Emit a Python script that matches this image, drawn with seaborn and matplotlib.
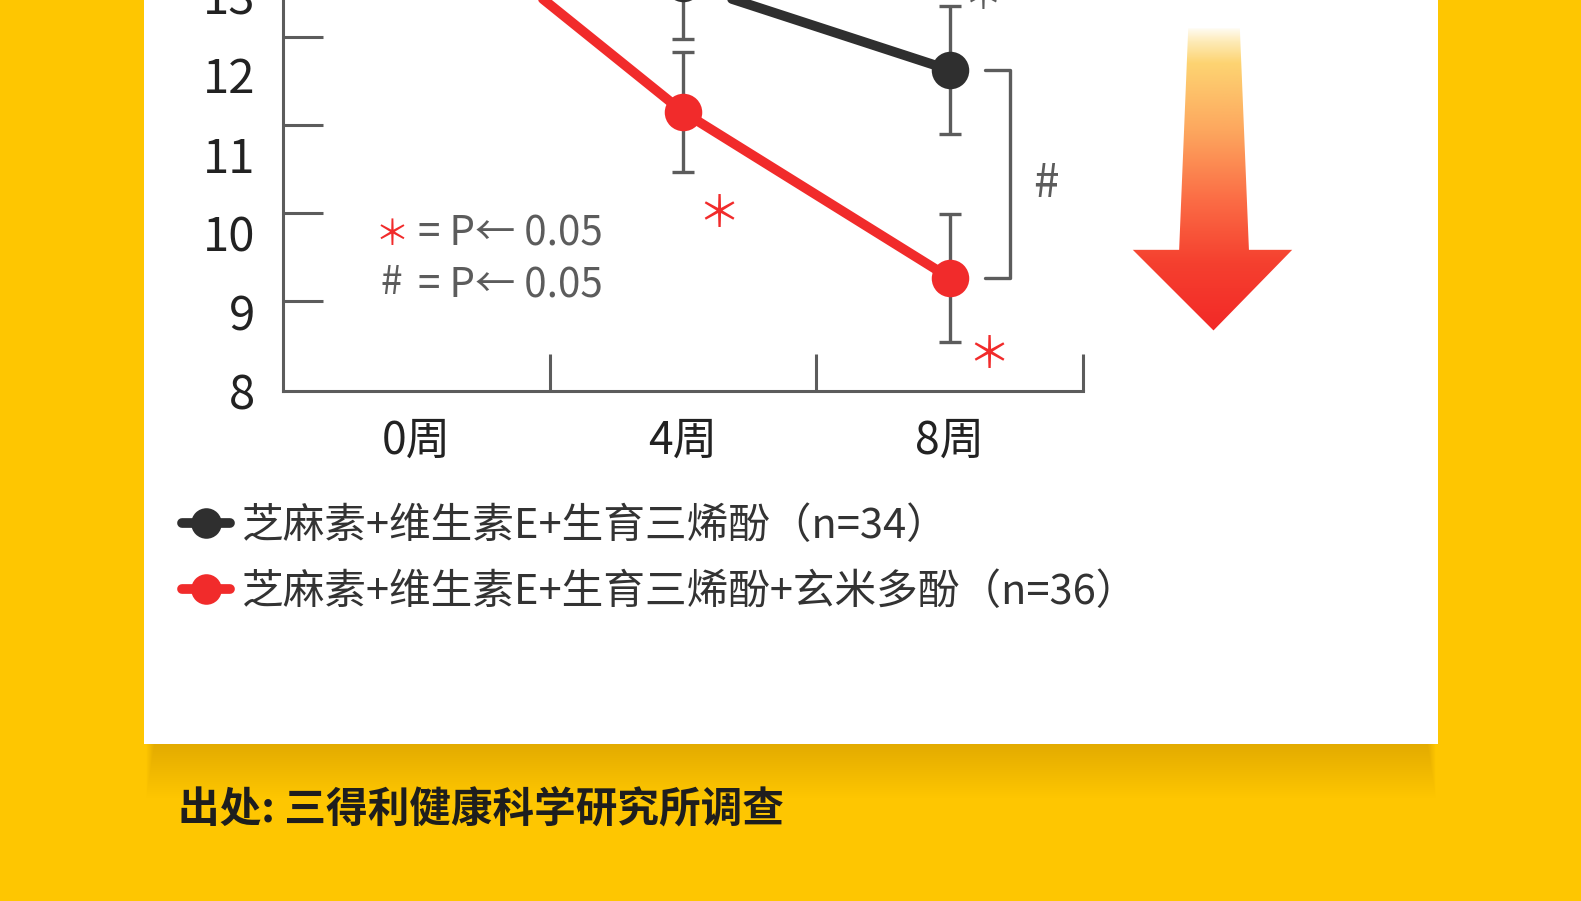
import matplotlib.pyplot as plt
import numpy as np
import pandas as pd
import seaborn as sns
from matplotlib.colors import LinearSegmentedColormap
from matplotlib.lines import Line2D
from matplotlib.patches import Polygon, Rectangle

# Data (values on the printed label scale)
weeks = ["0周", "4周", "8周"]
group_names = [
    "芝麻素+维生素E+生育三烯酚（n=34）",
    "芝麻素+维生素E+生育三烯酚+玄米多酚（n=36）",
]
base_values = [14.3, 13.16, 12.06]
base_err = [0.72, 0.71, 0.81]
rice_values = [14.25, 11.53, 9.43]
rice_err = [0.72, 0.76, 0.81]
y_ticks = [8, 9, 10, 11, 12, 13]
y_marks = [9.14, 10.25, 11.37, 12.48, 13.6]
sig_note = "= P← 0.05"
source_note = "出处: 三得利健康科学研究所调查"

W, H = 1581, 901
yellow = "#FEC601"
red = "#F12B2B"
black = "#2F2F2F"
grey = "#5C5C5C"


# layout was measured on a 1566x894 view of the reference
def fx(x):
    return x * 1581 / 1566 / W


def fy(y):
    return 1 - y * 901 / 894 / H


def fh(h):
    return h * 901 / 894 / H


sns.set_theme(style="white")
plt.rcParams["font.family"] = ["Liberation Sans Narrow", "Noto Sans CJK SC", "DejaVu Sans"]

df = pd.DataFrame(
    {
        "week": weeks * 2,
        "value": base_values + rice_values,
        "group": [group_names[0]] * 3 + [group_names[1]] * 3,
    }
)

fig = plt.figure(figsize=(W / 100, H / 100), dpi=100)
fig.patch.set_facecolor(yellow)

# soft shadow under the white card
for i in range(1, 28):
    inset = 10 - i * 0.3
    fig.add_artist(
        Rectangle(
            (fx(143 + inset), fy(738 + 2 * i)), fx(1424 - inset) - fx(143 + inset), fh(2 * i),
            transform=fig.transFigure, color="#5a3c00", alpha=0.0038, lw=0, zorder=-3,
        )
    )
fig.add_artist(
    Rectangle(
        (fx(143), fy(738)), fx(1424) - fx(143), 1 - fy(738) + 0.01,
        transform=fig.transFigure, color="white", lw=0, zorder=-2,
    )
)

ax = fig.add_axes([fx(280), fy(388), fx(1073) - fx(280), fy(-150) - fy(388)])
ax.set_facecolor("none")

# error bars first, so the category order is fixed
for vals, errs in [(base_values, base_err), (rice_values, rice_err)]:
    ax.errorbar(
        weeks, vals, yerr=errs, fmt="none", ecolor=grey,
        elinewidth=2.4, capsize=8, capthick=2.4, zorder=2,
    )

sns.lineplot(
    data=df, x="week", y="value", hue="group", hue_order=group_names,
    palette=[black, red], marker="o", markersize=27, markeredgewidth=0,
    linewidth=7, errorbar=None, ax=ax, zorder=3, legend=False,
)

ax.set_xlim(-0.5, 2.5)
ax.set_ylim(8.025, 14.857)
ax.set_xlabel("")
ax.set_ylabel("")
for side in ["top", "right"]:
    ax.spines[side].set_visible(False)
for side in ["left", "bottom"]:
    ax.spines[side].set_color(grey)
    ax.spines[side].set_linewidth(2.2)

ax.set_yticks(y_ticks)
ax.set_yticklabels([str(t) for t in y_ticks])
ax.set_yticks(y_marks, minor=True)
ax.tick_params(axis="y", which="major", length=0, pad=20, labelsize=34, labelcolor="#222222")
ax.tick_params(axis="y", which="minor", direction="in", length=29, width=2.2, color=grey, left=True)

ax.set_xticks(range(len(weeks)))
ax.set_xticklabels(weeks)
ax.set_xticks([0.5, 1.5, 2.5], minor=True)
ax.tick_params(axis="x", which="major", length=0, pad=19, labelsize=32, labelcolor="#222222")
ax.tick_params(axis="x", which="minor", direction="in", length=27, width=2.2, color=grey, bottom=True)

# significance marks
ax.annotate("＊", xy=(1, rice_values[1]), xytext=(26, -74), textcoords="offset points",
            color=red, fontsize=31, ha="center", va="center", family="Noto Sans CJK SC")
ax.annotate("＊", xy=(2, rice_values[2]), xytext=(28, -56), textcoords="offset points",
            color=red, fontsize=31, ha="center", va="center", family="Noto Sans CJK SC")
ax.annotate("＊", xy=(2, base_values[2]), xytext=(24, 52), textcoords="offset points",
            color=grey, fontsize=28, ha="center", va="center", family="Noto Sans CJK SC",
            annotation_clip=False)

# bracket between the two groups at 8 weeks
bx = [2.13, 2.225, 2.225, 2.13]
by = [base_values[2], base_values[2], rice_values[2], rice_values[2]]
ax.plot(bx, by, color=grey, lw=2.4, zorder=2, clip_on=False)
ax.annotate("#", xy=(2.225, (base_values[2] + rice_values[2]) / 2), xytext=(26, -7),
            textcoords="offset points", color=grey, fontsize=33, ha="center", va="center")

# key for the marks
fig.text(fx(388), fy(234), "＊", color=red, fontsize=25, ha="center", va="center",
         family="Noto Sans CJK SC")
fig.text(fx(414), fy(232), sig_note, color=grey, fontsize=29, ha="left", va="center")
fig.text(fx(388), fy(281), "#", color=grey, fontsize=28, ha="center", va="center")
fig.text(fx(414), fy(284), sig_note, color=grey, fontsize=29, ha="left", va="center")

# legend
handles = [
    Line2D([], [], color=c, lw=7, marker="o", markersize=22, markeredgewidth=0)
    for c in [black, red]
]
fig.legend(
    handles, group_names, loc="upper left", bbox_to_anchor=(fx(180), fy(502)),
    frameon=False, prop={"family": ["Noto Sans CJK SC"], "size": 30},
    labelcolor="#333333", handlelength=1.15, handletextpad=0.3, labelspacing=0.6,
    borderpad=0, borderaxespad=0,
)

# gradient arrow
arr_ax = fig.add_axes([fx(1110), fy(335), fx(1290) - fx(1110), fy(25) - fy(335)])
arr_ax.set_axis_off()
arr_ax.set_xlim(0, 1)
arr_ax.set_ylim(0, 1)
cmap = LinearSegmentedColormap.from_list(
    "arrow",
    [(0, "#F22626"), (0.24, "#F5402F"), (0.44, "#FB6C45"), (0.66, "#FDA65E"),
     (0.88, "#FDD472"), (0.95, "#FEEBB8"), (1.0, "#FFFFFF")],
)
grad = np.linspace(0, 1, 256).reshape(-1, 1)
im = arr_ax.imshow(grad, cmap=cmap, extent=[0, 1, 0, 1], origin="lower", aspect="auto")
arrow_shape = Polygon(
    [(0.372, 0.99), (0.656, 0.99), (0.706, 0.281), (0.944, 0.281), (0.511, 0.023),
     (0.067, 0.281), (0.322, 0.281)],
    closed=True, transform=arr_ax.transData, facecolor="none", edgecolor="none",
)
arr_ax.add_patch(arrow_shape)
im.set_clip_path(arrow_shape)

fig.text(fx(176), fy(803), source_note, color="#1E1E1E", fontsize=30, ha="left",
         va="center", family="Noto Sans CJK SC", fontweight="bold")

fig.savefig("out.png", dpi=100, facecolor=yellow)
